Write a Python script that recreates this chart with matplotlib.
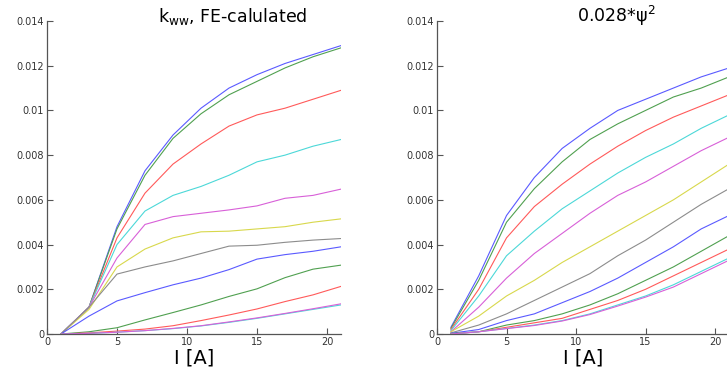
import matplotlib
matplotlib.use("Agg")
import matplotlib.pyplot as plt
from matplotlib.ticker import FuncFormatter

# current in amperes, same grid for every curve
current = [1, 3, 5, 7, 9, 11, 13, 15, 17, 19, 21]

# k_ww from the FE model, one curve per case
k_fe = [
    [0, 0.0012, 0.0048, 0.0073, 0.0089, 0.0101, 0.0110, 0.0116, 0.0121, 0.0125, 0.0129],
    [0, 0.0012, 0.0047, 0.0071, 0.00875, 0.00985, 0.0107, 0.0113, 0.0119, 0.0124, 0.0128],
    [0, 0.0012, 0.0043, 0.0063, 0.0076, 0.0085, 0.0093, 0.0098, 0.0101, 0.0105, 0.0109],
    [0, 0.0012, 0.0040, 0.0055, 0.0062, 0.0066, 0.0071, 0.0077, 0.0080, 0.0084, 0.0087],
    [0, 0.0012, 0.0034, 0.0049, 0.00525, 0.0054, 0.00555, 0.00573, 0.00607, 0.0062, 0.00648],
    [0, 0.0011, 0.0030, 0.0038, 0.0043, 0.00457, 0.0046, 0.0047, 0.0048, 0.0050, 0.00515],
    [0, 0.0012, 0.00268, 0.0030, 0.00327, 0.0036, 0.00393, 0.00397, 0.0041, 0.0042, 0.00427],
    [0, 0.0008, 0.00148, 0.00185, 0.0022, 0.0025, 0.00288, 0.00335, 0.00355, 0.0037, 0.0039],
    [0, 0.0001, 0.00028, 0.00063, 0.00096, 0.0013, 0.00168, 0.00202, 0.00252, 0.0029, 0.00308],
    [0, 0.00005, 0.00013, 0.00022, 0.00037, 0.0006, 0.00085, 0.00112, 0.00145, 0.00175, 0.00213],
    [0, 0.00003, 0.00008, 0.00015, 0.00024, 0.00036, 0.00052, 0.0007, 0.0009, 0.0011, 0.00130],
    [0, 0.00003, 0.00008, 0.00015, 0.00025, 0.00037, 0.00054, 0.00072, 0.00092, 0.00113, 0.00135],
]

# 0.028*psi^2 approximation for the same cases
k_psi = [
    [0.0003, 0.0026, 0.0053, 0.0070, 0.0083, 0.0092, 0.0100, 0.0105, 0.0110, 0.0115, 0.0119],
    [0.00025, 0.0024, 0.0050, 0.0065, 0.0077, 0.0087, 0.0094, 0.0100, 0.0106, 0.0110, 0.0115],
    [0.0002, 0.0020, 0.0043, 0.0057, 0.0067, 0.0076, 0.0084, 0.0091, 0.0097, 0.0102, 0.0107],
    [0.00015, 0.0017, 0.0035, 0.0046, 0.0056, 0.0064, 0.0072, 0.0079, 0.0085, 0.0092, 0.0098],
    [0.0001, 0.0012, 0.0025, 0.0036, 0.0045, 0.0054, 0.0062, 0.0068, 0.0075, 0.0082, 0.0088],
    [0.0001, 0.0008, 0.0017, 0.0024, 0.0032, 0.0039, 0.0046, 0.0053, 0.0060, 0.0068, 0.0076],
    [0.00005, 0.0004, 0.0009, 0.0015, 0.0021, 0.0027, 0.0035, 0.0042, 0.0050, 0.0058, 0.0065],
    [0.00003, 0.0002, 0.0006, 0.0009, 0.0014, 0.0019, 0.0025, 0.0032, 0.0039, 0.0047, 0.0053],
    [0.00002, 0.0001, 0.0004, 0.0006, 0.0009, 0.0013, 0.0018, 0.0024, 0.0030, 0.0037, 0.0044],
    [0.0, 0.0001, 0.0003, 0.0005, 0.0007, 0.0011, 0.0015, 0.0020, 0.0026, 0.0032, 0.0038],
    [0.0, 0.0001, 0.00025, 0.0004, 0.0006, 0.0009, 0.0013, 0.0017, 0.0022, 0.0028, 0.0034],
    [0.0, 0.0001, 0.00024, 0.00038, 0.00058, 0.00087, 0.00125, 0.00165, 0.0021, 0.0027, 0.0033],
]

colors = ['#5a5aff', '#50a050', '#ff5a5a', '#4cd8d8', '#d860d8', '#d8d84c', '#8c8c8c']
titles = [r'$\mathregular{k_{ww}}$, FE-calulated', r'0.028*$\mathregular{\psi^2}$']

plt.rcParams['font.family'] = 'DejaVu Sans'

fig = plt.figure(figsize=(7.27, 3.76), dpi=100)
ax1 = fig.add_axes([47 / 727, 42 / 376, 294 / 727, 313 / 376])
ax2 = fig.add_axes([437 / 727, 42 / 376, 292 / 727, 313 / 376])

for ax, data, title, tx in [(ax1, k_fe, titles[0], 0.63), (ax2, k_psi, titles[1], 0.615)]:
    for i, series in enumerate(data):
        ax.plot(current, series, color=colors[i % len(colors)], lw=0.8)
    ax.set_xlim(0, 21)
    ax.set_ylim(0, 0.014)
    ax.set_xticks([0, 5, 10, 15, 20])
    ax.set_yticks([0, 0.002, 0.004, 0.006, 0.008, 0.01, 0.012, 0.014])
    ax.yaxis.set_major_formatter(FuncFormatter(lambda v, p: '%g' % v))
    ax.spines['top'].set_visible(False)
    ax.spines['right'].set_visible(False)
    for side in ('left', 'bottom'):
        ax.spines[side].set_color('#555555')
        ax.spines[side].set_linewidth(0.9)
    ax.tick_params(direction='in', length=4, width=0.8, color='#555555',
                   labelsize=7, labelcolor='#333333', pad=2)
    ax.set_xlabel('I [A]', fontsize=14, labelpad=1)
    ax.text(tx, 0.997, title, transform=ax.transAxes, ha='center', va='baseline',
            fontsize=12.5)

fig.savefig('out.png', dpi=100)
